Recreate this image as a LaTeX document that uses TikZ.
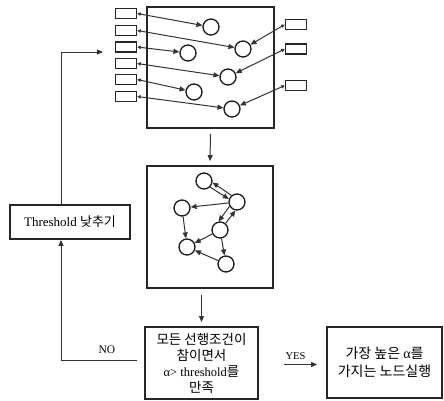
\documentclass[tikz,border=0pt]{standalone}
\usepackage{fontspec}
\setmainfont{Liberation Serif}
\newfontfamily\kr{Noto Sans CJK KR}
\usetikzlibrary{arrows.meta}
\begin{document}
\begin{tikzpicture}[x=1pt,y=-1pt,
  line/.style={draw=black!80, line width=1pt},
  arr/.style={line, -{Triangle[length=6pt,width=5pt]}},
  tarr/.style={line, {Triangle[length=3.5pt,width=3.5pt]}-{Triangle[length=6pt,width=5pt]}},
  smallbox/.style={draw=black!85, line width=1.4pt, minimum width=21pt, minimum height=10pt, inner sep=0pt},
  circ/.style={draw=black!90, circle, line width=1.3pt, minimum size=16pt, inner sep=0pt},
  frame/.style={draw=black!85, line width=1.8pt, inner sep=0pt},
]
\useasboundingbox (0,0) rectangle (444,400);

% top box
\node[frame, minimum width=127pt, minimum height=121pt] (T) at (210.5,67.5) {};
\foreach \i/\y in {1/13.5,2/30.5,3/47,4/63.5,5/79.5,6/96.5}
  \node[smallbox] (L\i) at (126,\y) {};
\foreach \i/\y in {1/24.5,2/49,3/85.5}
  \node[smallbox] (R\i) at (296,\y) {};
\node[circ] (c1) at (211,27) {};
\node[circ] (c2) at (243,49) {};
\node[circ] (c3) at (188,53) {};
\node[circ] (c4) at (228,77) {};
\node[circ] (c5) at (194,92) {};
\node[circ] (c6) at (232,109) {};
\draw[tarr] (L1.east) -- (c1);
\draw[tarr] (L2.east) -- (c2);
\draw[tarr] (L3.east) -- (c3);
\draw[tarr] (L4.east) -- (c4);
\draw[tarr] (L5.east) -- (c5);
\draw[tarr] (L6.east) -- (c6);
\draw[tarr] (R1.west) -- (c2);
\draw[tarr] (R2.west) -- (c4);
\draw[tarr] (R3.west) -- (c6);

% middle box
\node[frame, minimum width=126pt, minimum height=122pt] (M) at (210,227) {};
\node[circ] (m1) at (204,181) {};
\node[circ] (m2) at (237,202) {};
\node[circ] (m3) at (182,208) {};
\node[circ] (m4) at (220,230) {};
\node[circ] (m5) at (187,247) {};
\node[circ] (m6) at (226,264) {};
\draw[arr] (m1.-45) -- (m2.160);
\draw[arr] (m2.130) -- (m1.-10);
\draw[arr] (m2) -- (m3);
\draw[arr] (m3) -- (m5);
\draw[arr] (m2.-150) -- (m4.100);
\draw[arr] (m4.50) -- (m2.-100);
\draw[arr] (m4) -- (m5);
\draw[arr] (m4) -- (m6);
\draw[arr] (m6) -- (m5);

\draw[arr, shorten <=5pt, shorten >=4pt] (T.south) -- (M.north);

% decision
\node[frame, minimum width=113pt, minimum height=72pt, align=center,
  font=\fontsize{12.5}{16}\selectfont] (D) at (201.5,363)
  {{\kr\fontsize{13.5}{16}\selectfont 모든 선행조건이}\\{\kr\fontsize{13.5}{16}\selectfont 참이면서}\\α> threshold{\kr\fontsize{13.5}{16}\selectfont 를}\\{\kr\fontsize{13.5}{16}\selectfont 만족}};
\draw[arr, shorten <=6pt, shorten >=4pt] (M.south -| D.north) -- (D.north);

% result
\node[frame, minimum width=115pt, minimum height=71pt, align=center,
  font=\kr\fontsize{14}{18}\selectfont] (Rb) at (384.5,362.5)
  {가장 높은 {\rmfamily α}를\\가지는 노드실행};
\draw[arr, shorten <=25pt, shorten >=9pt] ([yshift=-1.5pt]D.east) -- ([yshift=-1.5pt]D.east -| Rb.west)
  node[midway, above=1pt, font=\fontsize{10.5}{12}\selectfont, xshift=3pt] (yes) {YES};

% threshold
\node[frame, minimum width=120pt, minimum height=34pt, font=\fontsize{13}{15}\selectfont] (Th) at (70,222)
  {Threshold {\kr\fontsize{13}{15}\selectfont 낮추기}};
\coordinate (noend) at (137,360);
\coordinate (topend) at (103,52);
\draw[arr] (noend) -| ([xshift=-9pt]Th.south);
\draw[arr] ([xshift=-9pt]Th.north) |- (topend);
\node[font=\fontsize{11.5}{13}\selectfont] (no) at (107,350) {NO};
\end{tikzpicture}
\end{document}
